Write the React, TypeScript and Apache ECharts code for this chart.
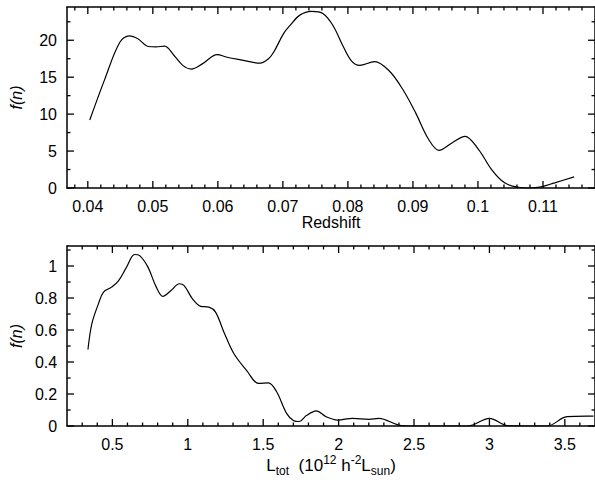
import React, { useEffect, useRef } from "react";
import * as echarts from "echarts";

// Top panel: redshift distribution
const redshiftX = [
  0.0403, 0.0426, 0.0449, 0.0464, 0.0477, 0.0493, 0.0505, 0.0518, 0.0533, 0.0546,
  0.0559, 0.0576, 0.0599, 0.0614, 0.0635, 0.0665, 0.0678, 0.0686, 0.0701, 0.0711,
  0.0726, 0.0744, 0.0762, 0.0777, 0.0792, 0.0805, 0.0818, 0.0841, 0.0863, 0.0884,
  0.0904, 0.0924, 0.094, 0.096, 0.098, 0.1001, 0.1021, 0.1041, 0.1062, 0.108,
  0.1097, 0.1118, 0.1148,
];
const redshiftF = [
  9.2, 14.7, 19.7, 20.6, 20.2, 19.15, 19.1, 19.2, 17.9, 16.6,
  16.1, 16.8, 18.05, 17.7, 17.35, 16.9, 17.5, 18.4, 20.9, 22.0,
  23.4, 23.9, 23.6, 22.0, 19.3, 17.25, 16.6, 17.1, 15.9, 13.4,
  10.2, 6.6, 5.1, 6.1, 7.0, 5.2, 2.5, 0.7, 0.1, 0.0,
  0.15, 0.7, 1.5,
];

// Bottom panel: total luminosity distribution
const lumX = [
  0.338, 0.364, 0.408, 0.441, 0.495, 0.539, 0.594, 0.648, 0.681, 0.736,
  0.791, 0.835, 0.889, 0.944, 0.976, 1.031, 1.086, 1.14, 1.184, 1.239,
  1.305, 1.392, 1.469, 1.534, 1.589, 1.655, 1.7, 1.74, 1.786, 1.852,
  1.917, 1.994, 2.092, 2.201, 2.267, 2.398, 2.486, 2.858, 3.0, 3.12,
  3.207, 3.382, 3.514, 3.645, 3.69,
];
const lumF = [
  0.478, 0.64, 0.765, 0.837, 0.868, 0.905, 0.993, 1.072, 1.065, 0.993,
  0.868, 0.81, 0.847, 0.889, 0.878, 0.795, 0.748, 0.743, 0.712, 0.588,
  0.453, 0.345, 0.266, 0.27, 0.214, 0.079, 0.035, 0.028, 0.065, 0.095,
  0.058, 0.037, 0.048, 0.042, 0.048, 0.006, 0.0, 0.0, 0.048, 0.002,
  0.0, 0.0, 0.058, 0.062, 0.062,
];

// Axis ranges and tick values
const topXRange = [0.0368, 0.118];
const topYRange = [0, 24.5];
const botXRange = [0.2, 3.7];
const botYRange = [0, 1.125];

const topXMajor = [0.04, 0.05, 0.06, 0.07, 0.08, 0.09, 0.1, 0.11];
const topXMinor = [
  0.038, 0.042, 0.044, 0.046, 0.048, 0.052, 0.054, 0.056, 0.058, 0.062, 0.064, 0.066, 0.068,
  0.072, 0.074, 0.076, 0.078, 0.082, 0.084, 0.086, 0.088, 0.092, 0.094, 0.096, 0.098,
  0.102, 0.104, 0.106, 0.108, 0.112, 0.114, 0.116,
];
const topYMajor = [0, 5, 10, 15, 20];
const topYMinor = [2.5, 7.5, 12.5, 17.5, 22.5];

const botXMajor = [0.5, 1, 1.5, 2, 2.5, 3, 3.5];
const botXMinor = [
  0.3, 0.4, 0.6, 0.7, 0.8, 0.9, 1.1, 1.2, 1.3, 1.4, 1.6, 1.7, 1.8, 1.9, 2.1, 2.2, 2.3, 2.4,
  2.6, 2.7, 2.8, 2.9, 3.1, 3.2, 3.3, 3.4, 3.6,
];
const botYMajor = [0, 0.2, 0.4, 0.6, 0.8, 1];
const botYMinor = [0.1, 0.3, 0.5, 0.7, 0.9, 1.1];

const FONT = "'Liberation Sans', Arial, Helvetica, sans-serif";
const BLACK = "#000";
const MAJOR_LEN = 7;
const MINOR_LEN = 3.5;

const GRID_W = 533;
const TOP_H = 181;
const BOT_H = 180;

// Each tick mark is a tiny two-point line series on the panel's own axes.
function tickSeriesList(
  idx: number,
  xMajor: number[],
  xMinor: number[],
  yMajor: number[],
  yMinor: number[],
  xRange: number[],
  yRange: number[],
  heightPx: number
) {
  const xPerPx = (xRange[1] - xRange[0]) / GRID_W;
  const yPerPx = (yRange[1] - yRange[0]) / heightPx;
  const out: any[] = [];
  const mk = (data: number[][]) => ({
    type: "line",
    xAxisIndex: idx,
    yAxisIndex: idx,
    data,
    showSymbol: false,
    symbol: "none",
    clip: false,
    silent: true,
    z: 3,
    lineStyle: { color: BLACK, width: 1.3 },
  });
  const addX = (v: number, len: number) => {
    out.push(mk([[v, yRange[0]], [v, yRange[0] + len * yPerPx]]));
    out.push(mk([[v, yRange[1]], [v, yRange[1] - len * yPerPx]]));
  };
  const addY = (v: number, len: number) => {
    out.push(mk([[xRange[0], v], [xRange[0] + len * xPerPx, v]]));
    out.push(mk([[xRange[1], v], [xRange[1] - len * xPerPx, v]]));
  };
  xMajor.forEach((v) => addX(v, MAJOR_LEN));
  xMinor.forEach((v) => addX(v, MINOR_LEN));
  yMajor.forEach((v) => addY(v, MAJOR_LEN));
  yMinor.forEach((v) => addY(v, MINOR_LEN));
  return out;
}

export default function App() {
  const ref = useRef<HTMLDivElement>(null);
  useEffect(() => {
    if (!ref.current) return;
    const chart = echarts.init(ref.current, null, { renderer: "svg" });
    const rich = {
      m: { fontSize: 17, lineHeight: 23, verticalAlign: "middle", color: BLACK, fontFamily: FONT },
      sp: { fontSize: 12, lineHeight: 12, verticalAlign: "top", color: BLACK, fontFamily: FONT },
      sb: { fontSize: 12, lineHeight: 12, verticalAlign: "bottom", color: BLACK, fontFamily: FONT },
    };
    const labelStyle = { fontSize: 16, color: BLACK, fontFamily: FONT, margin: 10 };
    const lineStyle = { color: BLACK, width: 1.5 };
    const xAxisMain = (grid: number, range: number[], splitNumber: number) => ({
      type: "value",
      gridIndex: grid,
      position: "bottom",
      min: range[0],
      max: range[1],
      splitNumber,
      splitLine: { show: false },
      axisTick: { show: false },
      axisLine: { show: true, onZero: false, lineStyle },
      axisLabel: { ...labelStyle, showMinLabel: false, showMaxLabel: false },
      nameLocation: "middle",
    });
    const xAxisTop = (grid: number, range: number[]) => ({
      type: "value",
      gridIndex: grid,
      position: "top",
      min: range[0],
      max: range[1],
      splitLine: { show: false },
      axisTick: { show: false },
      axisLabel: { show: false },
      axisLine: { show: true, onZero: false, lineStyle },
    });
    const yAxisMain = (grid: number, range: number[], interval: number) => ({
      type: "value",
      gridIndex: grid,
      position: "left",
      min: range[0],
      max: range[1],
      interval,
      splitLine: { show: false },
      axisTick: { show: false },
      axisLine: { show: true, onZero: false, lineStyle },
      axisLabel: { ...labelStyle, showMaxLabel: false },
      name: "f(n)",
      nameLocation: "middle",
      nameGap: 43,
      nameTextStyle: { fontSize: 16, color: BLACK, fontFamily: FONT, fontStyle: "italic" },
    });
    const yAxisRight = (grid: number, range: number[]) => ({
      type: "value",
      gridIndex: grid,
      position: "right",
      min: range[0],
      max: range[1],
      splitLine: { show: false },
      axisTick: { show: false },
      axisLabel: { show: false },
      axisLine: { show: true, onZero: false, lineStyle },
    });
    const option = {
      animation: false,
      grid: [
        { left: 65, top: 7, width: GRID_W, height: TOP_H },
        { left: 65, top: 246, width: GRID_W, height: BOT_H },
      ],
      xAxis: [
        {
          ...xAxisMain(0, topXRange, 8),
          name: "Redshift",
          nameGap: 24,
          nameTextStyle: { fontSize: 16, color: BLACK, fontFamily: FONT },
        },
        {
          ...xAxisMain(1, botXRange, 7),
          name: "{m|L}{sb|tot}{m|  (10}{sp|12}{m| h}{sp|-2}{m|L}{sb|sun}{m|)}",
          nameGap: 28,
          nameTextStyle: { fontSize: 17, color: BLACK, fontFamily: FONT, rich },
        },
        xAxisTop(0, topXRange),
        xAxisTop(1, botXRange),
      ],
      yAxis: [
        yAxisMain(0, topYRange, 5),
        yAxisMain(1, botYRange, 0.2),
        yAxisRight(0, topYRange),
        yAxisRight(1, botYRange),
      ],
      series: [
        {
          type: "line",
          xAxisIndex: 0,
          yAxisIndex: 0,
          data: redshiftX.map((x, i) => [x, redshiftF[i]]),
          showSymbol: false,
          symbol: "none",
          smooth: 0.35,
          lineStyle: { color: BLACK, width: 1.2 },
        },
        {
          type: "line",
          xAxisIndex: 1,
          yAxisIndex: 1,
          data: lumX.map((x, i) => [x, lumF[i]]),
          showSymbol: false,
          symbol: "none",
          smooth: 0.35,
          lineStyle: { color: BLACK, width: 1.2 },
        },
        ...tickSeriesList(0, topXMajor, topXMinor, topYMajor, topYMinor, topXRange, topYRange, TOP_H),
        ...tickSeriesList(1, botXMajor, botXMinor, botYMajor, botYMinor, botXRange, botYRange, BOT_H),
      ],
    };
    chart.setOption(option as any);
    return () => chart.dispose();
  }, []);
  return <div ref={ref} style={{ width: 595, height: 484, position: "absolute", left: 0, top: 0 }} />;
}
